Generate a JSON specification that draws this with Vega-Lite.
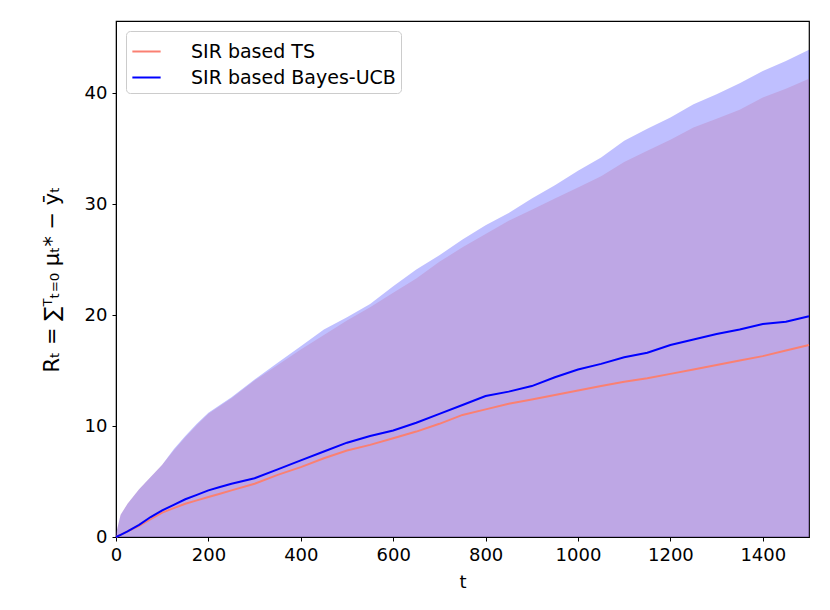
{
  "$schema": "https://vega.github.io/schema/vega-lite/v6.json",
  "width": 693,
  "height": 516,
  "autosize": {"type": "none"},
  "padding": {"left": 116, "top": 21, "right": 21, "bottom": 73},
  "background": "white",
  "config": {
    "font": "DejaVu Sans",
    "view": {"stroke": "#000000", "strokeWidth": 1.2},
    "axis": {
      "grid": false,
      "domainColor": "#000000",
      "tickColor": "#000000",
      "tickSize": 4,
      "labelColor": "#000000",
      "labelFontSize": 18,
      "labelFlush": false,
      "labelPadding": 5,
      "titleFontSize": 18,
      "titleFontWeight": "normal",
      "titleColor": "#000000",
      "labelFont": "DejaVu Sans",
      "titleFont": "DejaVu Sans"
    },
    "legend": {
      "labelFontSize": 19,
      "labelFont": "DejaVu Sans",
      "labelColor": "#000000",
      "labelLimit": 0
    }
  },
  "datasets": {
    "runs": [
      {"t": 0, "algo": "SIR based TS", "mean": 0, "upper": 0.3},
      {"t": 10, "algo": "SIR based TS", "mean": 0.2, "upper": 2.0},
      {"t": 25, "algo": "SIR based TS", "mean": 0.5, "upper": 3.0},
      {"t": 50, "algo": "SIR based TS", "mean": 1.0, "upper": 4.3},
      {"t": 75, "algo": "SIR based TS", "mean": 1.6, "upper": 5.4},
      {"t": 100, "algo": "SIR based TS", "mean": 2.2, "upper": 6.5},
      {"t": 125, "algo": "SIR based TS", "mean": 2.6, "upper": 7.8},
      {"t": 150, "algo": "SIR based TS", "mean": 3.0, "upper": 9.0},
      {"t": 175, "algo": "SIR based TS", "mean": 3.3, "upper": 10.1},
      {"t": 200, "algo": "SIR based TS", "mean": 3.6, "upper": 11.1},
      {"t": 225, "algo": "SIR based TS", "mean": 3.9, "upper": 11.8},
      {"t": 250, "algo": "SIR based TS", "mean": 4.2, "upper": 12.5},
      {"t": 300, "algo": "SIR based TS", "mean": 4.8, "upper": 14.1},
      {"t": 350, "algo": "SIR based TS", "mean": 5.6, "upper": 15.5},
      {"t": 400, "algo": "SIR based TS", "mean": 6.3, "upper": 16.9},
      {"t": 450, "algo": "SIR based TS", "mean": 7.1, "upper": 18.2},
      {"t": 500, "algo": "SIR based TS", "mean": 7.8, "upper": 19.5},
      {"t": 550, "algo": "SIR based TS", "mean": 8.3, "upper": 20.7},
      {"t": 600, "algo": "SIR based TS", "mean": 8.9, "upper": 22.0},
      {"t": 650, "algo": "SIR based TS", "mean": 9.5, "upper": 23.3},
      {"t": 700, "algo": "SIR based TS", "mean": 10.2, "upper": 24.8},
      {"t": 750, "algo": "SIR based TS", "mean": 11.0, "upper": 26.1},
      {"t": 800, "algo": "SIR based TS", "mean": 11.5, "upper": 27.3},
      {"t": 850, "algo": "SIR based TS", "mean": 12.0, "upper": 28.5},
      {"t": 900, "algo": "SIR based TS", "mean": 12.4, "upper": 29.5},
      {"t": 950, "algo": "SIR based TS", "mean": 12.8, "upper": 30.5},
      {"t": 1000, "algo": "SIR based TS", "mean": 13.2, "upper": 31.5},
      {"t": 1050, "algo": "SIR based TS", "mean": 13.6, "upper": 32.5},
      {"t": 1100, "algo": "SIR based TS", "mean": 14.0, "upper": 33.8},
      {"t": 1150, "algo": "SIR based TS", "mean": 14.3, "upper": 34.8},
      {"t": 1200, "algo": "SIR based TS", "mean": 14.7, "upper": 35.8},
      {"t": 1250, "algo": "SIR based TS", "mean": 15.1, "upper": 36.9},
      {"t": 1300, "algo": "SIR based TS", "mean": 15.5, "upper": 37.7},
      {"t": 1350, "algo": "SIR based TS", "mean": 15.9, "upper": 38.5},
      {"t": 1400, "algo": "SIR based TS", "mean": 16.3, "upper": 39.6},
      {"t": 1450, "algo": "SIR based TS", "mean": 16.8, "upper": 40.4},
      {"t": 1500, "algo": "SIR based TS", "mean": 17.3, "upper": 41.3},
      {"t": 0, "algo": "SIR based Bayes-UCB", "mean": 0, "upper": 0.3},
      {"t": 10, "algo": "SIR based Bayes-UCB", "mean": 0.2, "upper": 2.0},
      {"t": 25, "algo": "SIR based Bayes-UCB", "mean": 0.5, "upper": 3.0},
      {"t": 50, "algo": "SIR based Bayes-UCB", "mean": 1.1, "upper": 4.3},
      {"t": 75, "algo": "SIR based Bayes-UCB", "mean": 1.8, "upper": 5.4},
      {"t": 100, "algo": "SIR based Bayes-UCB", "mean": 2.4, "upper": 6.5},
      {"t": 125, "algo": "SIR based Bayes-UCB", "mean": 2.9, "upper": 7.9},
      {"t": 150, "algo": "SIR based Bayes-UCB", "mean": 3.4, "upper": 9.1},
      {"t": 175, "algo": "SIR based Bayes-UCB", "mean": 3.8, "upper": 10.2},
      {"t": 200, "algo": "SIR based Bayes-UCB", "mean": 4.2, "upper": 11.2},
      {"t": 225, "algo": "SIR based Bayes-UCB", "mean": 4.5, "upper": 11.9},
      {"t": 250, "algo": "SIR based Bayes-UCB", "mean": 4.8, "upper": 12.6},
      {"t": 300, "algo": "SIR based Bayes-UCB", "mean": 5.3, "upper": 14.2},
      {"t": 350, "algo": "SIR based Bayes-UCB", "mean": 6.1, "upper": 15.7},
      {"t": 400, "algo": "SIR based Bayes-UCB", "mean": 6.9, "upper": 17.2},
      {"t": 450, "algo": "SIR based Bayes-UCB", "mean": 7.7, "upper": 18.7},
      {"t": 500, "algo": "SIR based Bayes-UCB", "mean": 8.5, "upper": 19.8},
      {"t": 550, "algo": "SIR based Bayes-UCB", "mean": 9.1, "upper": 21.0},
      {"t": 600, "algo": "SIR based Bayes-UCB", "mean": 9.6, "upper": 22.6},
      {"t": 650, "algo": "SIR based Bayes-UCB", "mean": 10.3, "upper": 24.1},
      {"t": 700, "algo": "SIR based Bayes-UCB", "mean": 11.1, "upper": 25.4},
      {"t": 750, "algo": "SIR based Bayes-UCB", "mean": 11.9, "upper": 26.8},
      {"t": 800, "algo": "SIR based Bayes-UCB", "mean": 12.7, "upper": 28.1},
      {"t": 850, "algo": "SIR based Bayes-UCB", "mean": 13.1, "upper": 29.2},
      {"t": 900, "algo": "SIR based Bayes-UCB", "mean": 13.6, "upper": 30.5},
      {"t": 950, "algo": "SIR based Bayes-UCB", "mean": 14.4, "upper": 31.7},
      {"t": 1000, "algo": "SIR based Bayes-UCB", "mean": 15.1, "upper": 33.0},
      {"t": 1050, "algo": "SIR based Bayes-UCB", "mean": 15.6, "upper": 34.2},
      {"t": 1100, "algo": "SIR based Bayes-UCB", "mean": 16.2, "upper": 35.7},
      {"t": 1150, "algo": "SIR based Bayes-UCB", "mean": 16.6, "upper": 36.8},
      {"t": 1200, "algo": "SIR based Bayes-UCB", "mean": 17.3, "upper": 37.8},
      {"t": 1250, "algo": "SIR based Bayes-UCB", "mean": 17.8, "upper": 39.0},
      {"t": 1300, "algo": "SIR based Bayes-UCB", "mean": 18.3, "upper": 39.9},
      {"t": 1350, "algo": "SIR based Bayes-UCB", "mean": 18.7, "upper": 40.9},
      {"t": 1400, "algo": "SIR based Bayes-UCB", "mean": 19.2, "upper": 42.0},
      {"t": 1450, "algo": "SIR based Bayes-UCB", "mean": 19.4, "upper": 42.9},
      {"t": 1500, "algo": "SIR based Bayes-UCB", "mean": 19.9, "upper": 43.9}
    ]
  },
  "data": {"name": "runs"},
  "encoding": {
    "x": {
      "field": "t",
      "type": "quantitative",
      "title": "t",
      "scale": {"domain": [0, 1500], "nice": false},
      "axis": {"values": [0, 200, 400, 600, 800, 1000, 1200, 1400], "format": "d", "titlePadding": 9}
    }
  },
  "layer": [
    {
      "transform": [{"filter": "datum.algo === 'SIR based TS'"}],
      "mark": {"type": "area", "color": "#fa8072", "opacity": 0.25},
      "encoding": {
        "y": {
          "field": "upper",
          "type": "quantitative",
          "stack": null,
          "title": "Rₜ = ∑ᵀₜ₌₀ μₜ* − ȳₜ",
          "scale": {"domain": [0, 46.5], "nice": false},
          "axis": {"values": [0, 10, 20, 30, 40], "titlePadding": 22, "titleFontSize": 21}
        }
      }
    },
    {
      "transform": [{"filter": "datum.algo === 'SIR based Bayes-UCB'"}],
      "mark": {"type": "area", "color": "#0000ff", "opacity": 0.25},
      "encoding": {
        "y": {"field": "upper", "type": "quantitative", "stack": null}
      }
    },
    {
      "mark": {"type": "line", "strokeWidth": 2},
      "encoding": {
        "y": {"field": "mean", "type": "quantitative"},
        "color": {
          "field": "algo",
          "type": "nominal",
          "scale": {
            "domain": ["SIR based TS", "SIR based Bayes-UCB"],
            "range": ["#fa8072", "#0000ff"]
          },
          "legend": {
            "title": null,
            "orient": "top-left",
            "offset": 10,
            "symbolType": "stroke",
            "symbolStrokeWidth": 2,
            "symbolSize": 800,
            "labelOffset": 29,
            "rowPadding": 0,
            "padding": 5,
            "strokeColor": "#cccccc",
            "fillColor": "#ffffff",
            "cornerRadius": 4
          }
        }
      }
    }
  ]
}
